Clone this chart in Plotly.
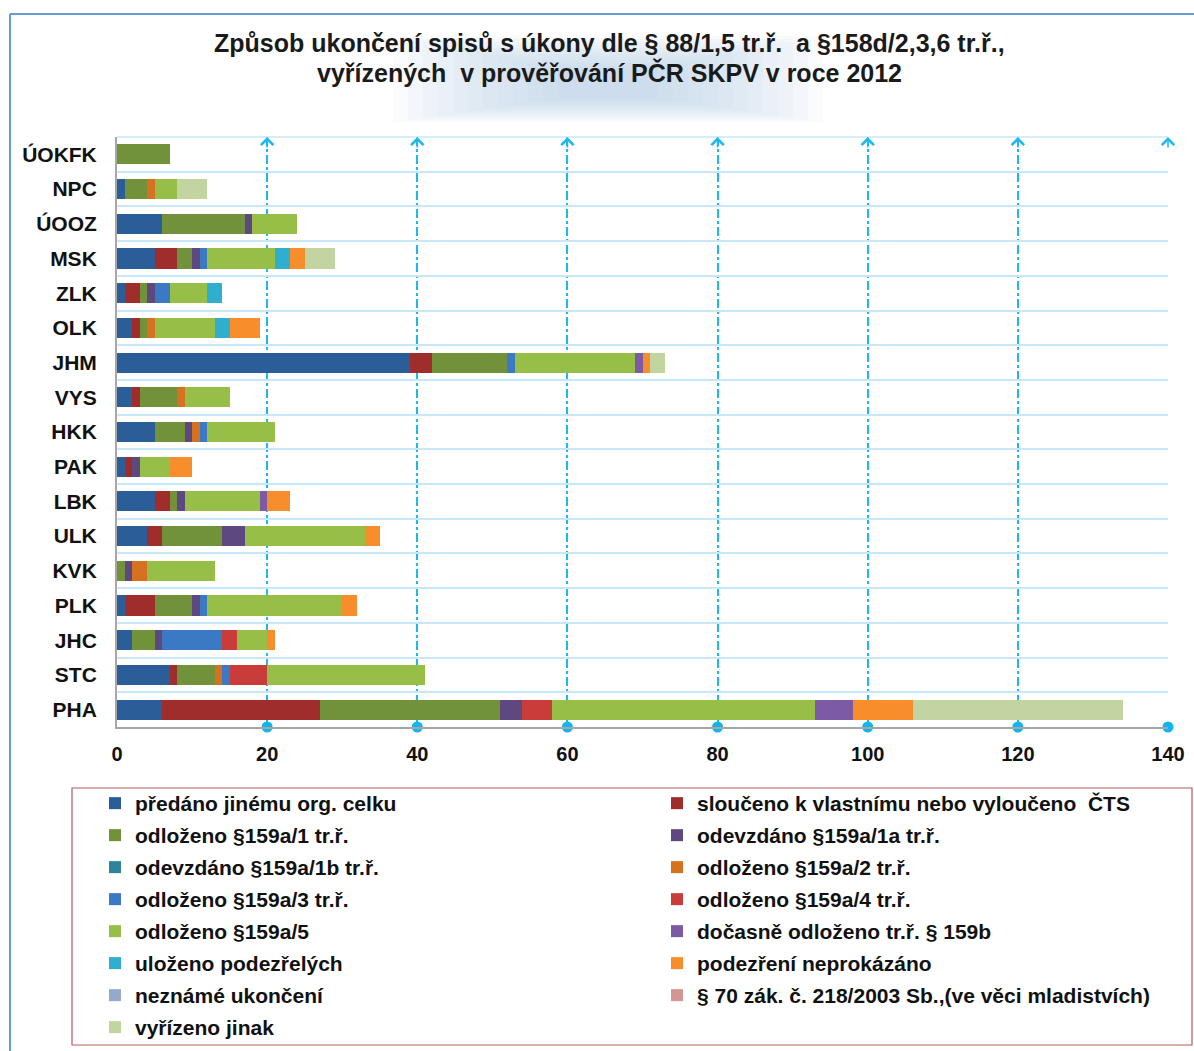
import plotly.graph_objects as go

categories = ["ÚOKFK", "NPC", "ÚOOZ", "MSK", "ZLK", "OLK", "JHM", "VYS", "HKK",
              "PAK", "LBK", "ULK", "KVK", "PLK", "JHC", "STC", "PHA"]

series_names = [
    "předáno jinému org. celku",
    "sloučeno k vlastnímu nebo vyloučeno  ČTS",
    "odloženo §159a/1 tr.ř.",
    "odevzdáno §159a/1a tr.ř.",
    "odevzdáno §159a/1b tr.ř.",
    "odloženo §159a/2 tr.ř.",
    "odloženo §159a/3 tr.ř.",
    "odloženo §159a/4 tr.ř.",
    "odloženo §159a/5",
    "dočasně odloženo tr.ř. § 159b",
    "uloženo podezřelých",
    "podezření neprokázáno",
    "neznámé ukončení",
    "§ 70 zák. č. 218/2003 Sb.,(ve věci mladistvích)",
    "vyřízeno jinak",
]

# values per category (order as in `categories`)
predano      = [0, 1, 6, 5, 1, 2, 39, 2, 5, 1, 5, 4, 0, 1, 2, 7, 6]
slouceno     = [0, 0, 0, 3, 2, 1, 3, 1, 0, 1, 2, 2, 0, 4, 0, 1, 21]
odl_159a_1   = [7, 3, 11, 2, 1, 1, 10, 5, 4, 0, 1, 8, 1, 5, 3, 5, 24]
odevz_159a1a = [0, 0, 1, 1, 1, 0, 0, 0, 1, 1, 1, 3, 1, 1, 1, 0, 3]
odevz_159a1b = [0, 0, 0, 0, 0, 0, 0, 0, 0, 0, 0, 0, 0, 0, 0, 0, 0]
odl_159a_2   = [0, 1, 0, 0, 0, 1, 0, 1, 1, 0, 0, 0, 2, 0, 0, 1, 0]
odl_159a_3   = [0, 0, 0, 1, 2, 0, 1, 0, 1, 0, 0, 0, 0, 1, 8, 1, 0]
odl_159a_4   = [0, 0, 0, 0, 0, 0, 0, 0, 0, 0, 0, 0, 0, 0, 2, 5, 4]
odl_159a_5   = [0, 3, 6, 9, 5, 8, 16, 6, 9, 4, 10, 16, 9, 18, 4, 21, 35]
docasne_159b = [0, 0, 0, 0, 0, 0, 1, 0, 0, 0, 1, 0, 0, 0, 0, 0, 5]
ulozeno_podz = [0, 0, 0, 2, 2, 2, 0, 0, 0, 0, 0, 0, 0, 0, 0, 0, 0]
podz_neprok  = [0, 0, 0, 2, 0, 4, 1, 0, 0, 3, 3, 2, 0, 2, 1, 0, 8]
nezname      = [0, 0, 0, 0, 0, 0, 0, 0, 0, 0, 0, 0, 0, 0, 0, 0, 0]
par_70       = [0, 0, 0, 0, 0, 0, 0, 0, 0, 0, 0, 0, 0, 0, 0, 0, 0]
vyrizeno_jin = [0, 4, 0, 4, 0, 0, 2, 0, 0, 0, 0, 0, 0, 0, 0, 0, 28]

series_values = [predano, slouceno, odl_159a_1, odevz_159a1a, odevz_159a1b,
                 odl_159a_2, odl_159a_3, odl_159a_4, odl_159a_5, docasne_159b,
                 ulozeno_podz, podz_neprok, nezname, par_70, vyrizeno_jin]

series_colors = ["#2B5D98", "#9E2D2B", "#71923A", "#5E4880", "#2E849B",
                 "#D6711F", "#3B79C5", "#C93C39", "#97BF47", "#7D5BA4",
                 "#30AECE", "#F88D2B", "#95A9CC", "#D49594", "#C2D5A0"]

x_ticks = [0, 20, 40, 60, 80, 100, 120, 140]
grid_ticks = [20, 40, 60, 80, 100, 120, 140]

W, H = 1194, 1051
ML, MR, MT, MB = 117, 26, 137, 324
PW, PH = W - ML - MR, H - MT - MB


def px2x(px):
    return (px - ML) / PW


def px2y(py):
    return (H - MB - py) / PH


FONT = "Liberation Sans, Arial, sans-serif"
GRID = "#1DB9EE"

fig = go.Figure()

for i, (name, vals, col) in enumerate(zip(series_names, series_values, series_colors)):
    fig.add_trace(go.Bar(
        y=categories, x=vals, name=name, orientation="h",
        marker=dict(color=col, line=dict(width=0)),
        legend="legend" if i % 2 == 0 else "legend2",
        legendgroup=f"g{i}",
    ))

# dots on the value axis at every gridline
fig.add_trace(go.Scatter(
    x=grid_ticks, y=[0] * len(grid_ticks), yaxis="y2", mode="markers",
    marker=dict(symbol="circle", size=11, color="#10B4EE"),
    showlegend=False, hoverinfo="skip", cliponaxis=False))

shapes = []
# title glow (soft, layered)
n_layers = 12
for k in range(n_layers):
    dx = 215 - k * 15
    dy_top = 52 - k * 3.0
    dy_bot = 34 - k * 2.2
    shapes.append(dict(type="rect", xref="paper", yref="paper",
                       x0=px2x(608 - dx), x1=px2x(608 + dx),
                       y0=px2y(88 + dy_bot), y1=px2y(88 - dy_top),
                       fillcolor="#B4CCEC", opacity=0.085, line=dict(width=0),
                       layer="below"))
# frame lines
shapes.append(dict(type="line", xref="paper", yref="paper",
                   x0=px2x(10), x1=px2x(1194), y0=px2y(14), y1=px2y(14),
                   line=dict(color="#6C98D4", width=2)))
shapes.append(dict(type="line", xref="paper", yref="paper",
                   x0=px2x(10), x1=px2x(10), y0=px2y(14), y1=px2y(1051),
                   line=dict(color="#6C98D4", width=2)))
# top boundary of the plot area
shapes.append(dict(type="line", xref="paper", yref="paper",
                   x0=0, x1=1, y0=1, y1=1,
                   line=dict(color="#C9E8F7", width=1.5)))
# legend box
shapes.append(dict(type="rect", xref="paper", yref="paper",
                   x0=px2x(72), x1=px2x(1192), y0=px2y(788), y1=px2y(1045),
                   line=dict(color="#B35A5C", width=1.2)))

annotations = [
    dict(text="Způsob ukončení spisů s úkony dle § 88/1,5 tr.ř.  a §158d/2,3,6 tr.ř.,",
         xref="paper", yref="paper", x=px2x(609), y=px2y(43), showarrow=False,
         xanchor="center", yanchor="middle",
         font=dict(family=FONT, size=25, color="#1A1A1A", weight="bold")),
    dict(text="vyřízených  v prověřování PČR SKPV v roce 2012",
         xref="paper", yref="paper", x=px2x(609), y=px2y(72), showarrow=False,
         xanchor="center", yanchor="middle",
         font=dict(family=FONT, size=25, color="#1A1A1A", weight="bold")),
]
# open arrow heads on top of each gridline
for gx in grid_ticks:
    annotations.append(dict(
        x=gx, y=1, xref="x", yref="paper", text="", showarrow=True,
        ax=0, ay=12, axref="pixel", ayref="pixel",
        arrowhead=4, arrowsize=1.6, arrowwidth=1.5, arrowcolor=GRID,
        standoff=0))

legend_common = dict(
    orientation="v", yanchor="top", xanchor="left",
    bgcolor="rgba(0,0,0,0)", borderwidth=0,
    tracegroupgap=1.7, itemclick=False, itemdoubleclick=False,
    font=dict(family=FONT, size=21, color="#111111", weight="bold"),
)

fig.update_layout(
    width=W, height=H,
    margin=dict(l=ML, r=MR, t=MT, b=MB, autoexpand=False),
    paper_bgcolor="white", plot_bgcolor="white",
    barmode="stack", bargap=0.42,
    showlegend=True,
    legend=dict(x=px2x(95), y=px2y(783), **legend_common),
    legend2=dict(x=px2x(657), y=px2y(783), **legend_common),
    xaxis=dict(range=[0, 140], tickvals=x_ticks, ticktext=[str(v) for v in x_ticks],
               showgrid=True, gridcolor=GRID, gridwidth=1.5, griddash="dashdot",
               zeroline=False, showline=True, linecolor="#A6A6A6", linewidth=2,
               ticks="", ticklabelstandoff=8,
               tickfont=dict(family=FONT, size=20, color="#111111", weight="bold")),
    yaxis=dict(type="category", categoryorder="array", categoryarray=categories,
               range=[len(categories) - 0.5, -0.5], tickson="boundaries",
               showgrid=True, gridcolor="#C9E8F7", gridwidth=1.5,
               showline=True, linecolor="#A6A6A6", linewidth=2,
               ticks="", ticklabelstandoff=14,
               tickfont=dict(family=FONT, size=21, color="#111111", weight="bold")),
    yaxis2=dict(overlaying="y", range=[0, 1], visible=False, fixedrange=True),
    shapes=shapes,
    annotations=annotations,
)

fig.write_html(
    "out.html",
    config={"displayModeBar": False},
    post_script="document.body.style.margin='0';document.body.style.overflow='hidden';",
)
